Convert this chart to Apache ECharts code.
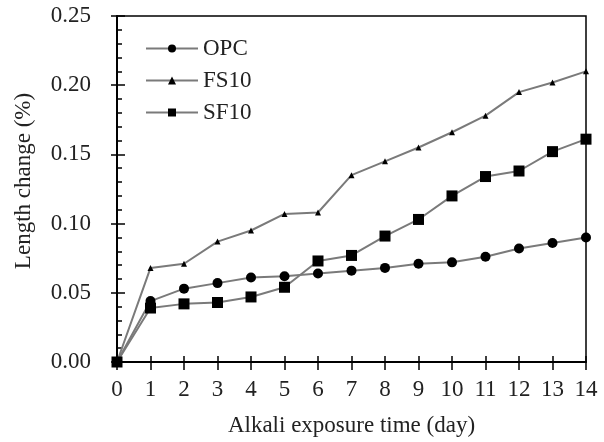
<!DOCTYPE html>
<html>
<head>
<meta charset="utf-8">
<script src="https://cdn.jsdelivr.net/npm/echarts@6/dist/echarts.min.js"></script>
<style>
  html, body { margin: 0; padding: 0; background: #fff; }
  #chart { width: 604px; height: 442px; }
</style>
</head>
<body>
<div id="chart"></div>
<script>
// Exposure days and measured length change (%) per mix
const days = [0, 1, 2, 3, 4, 5, 6, 7, 8, 9, 10, 11, 12, 13, 14];
const opc  = [0, 0.044, 0.053, 0.057, 0.061, 0.062, 0.064, 0.066, 0.068, 0.071, 0.072, 0.076, 0.082, 0.086, 0.090];
const fs10 = [0, 0.068, 0.071, 0.087, 0.095, 0.107, 0.108, 0.135, 0.145, 0.155, 0.166, 0.178, 0.195, 0.202, 0.210];
const sf10 = [0, 0.039, 0.042, 0.043, 0.047, 0.054, 0.073, 0.077, 0.091, 0.103, 0.120, 0.134, 0.138, 0.152, 0.161];
const seriesNames = ['OPC', 'FS10', 'SF10'];
const xTitle = 'Alkali exposure time (day)';
const yTitle = 'Length change (%)';

const FONT = '"Liberation Serif", "DejaVu Serif", serif';
const TEXT = '#222';
const LINE = '#7a7a7a';

const pairs = vals => days.map((d, i) => [d, vals[i]]);

function lineSeries(name, vals, symbol, size) {
  return {
    name: name,
    type: 'line',
    data: pairs(vals),
    symbol: symbol,
    symbolSize: size,
    itemStyle: { color: '#000' },
    lineStyle: { color: LINE, width: 2 },
    emphasis: { disabled: true },
    z: 3
  };
}

const chart = echarts.init(document.getElementById('chart'), null, { renderer: 'canvas' });
chart.setOption({
  animation: false,
  textStyle: { fontFamily: FONT },
  grid: {
    left: 117, right: 18, top: 16, bottom: 78,
    show: true, borderColor: '#000', borderWidth: 1.5, backgroundColor: 'transparent'
  },
  legend: {
    orient: 'vertical',
    left: 140, top: 32,
    itemWidth: 52, itemHeight: 10, itemGap: 9,
    textStyle: { fontFamily: FONT, fontSize: 23, color: TEXT },
    data: seriesNames
  },
  xAxis: [{
    type: 'value', min: 0, max: 14, interval: 1,
    name: xTitle, nameLocation: 'middle', nameGap: 52,
    nameTextStyle: { fontFamily: FONT, fontSize: 23, color: TEXT },
    axisLine: { lineStyle: { color: '#000', width: 2 } },
    axisTick: { show: true, inside: false, length: 8, lineStyle: { color: '#000', width: 1.5 } },
    axisLabel: { fontFamily: FONT, fontSize: 23, color: TEXT, margin: 16 },
    splitLine: { show: false }
  }, {
    type: 'value', min: 0, max: 14, interval: 1, position: 'bottom',
    axisLine: { show: false },
    axisTick: { show: true, inside: true, length: 6, lineStyle: { color: '#000', width: 1.5 } },
    axisLabel: { show: false },
    splitLine: { show: false }
  }],
  yAxis: [{
    type: 'value', min: 0, max: 0.25, interval: 0.05,
    name: yTitle, nameLocation: 'middle', nameGap: 82,
    nameTextStyle: { fontFamily: FONT, fontSize: 23, color: TEXT, padding: [0, 0, 0, 16] },
    axisLine: { show: true, lineStyle: { color: '#000', width: 2 } },
    axisTick: { show: true, inside: false, length: 6, lineStyle: { color: '#000', width: 1.5 } },
    axisLabel: { fontFamily: FONT, fontSize: 23, color: TEXT, margin: 26, formatter: v => v.toFixed(2) },
    splitLine: { show: false }
  }, {
    type: 'value', min: 0, max: 0.25, interval: 0.05, position: 'left',
    axisLine: { show: false },
    axisTick: { show: true, inside: true, length: 8, lineStyle: { color: '#000', width: 1.5 } },
    minorTick: { show: true, splitNumber: 5, length: 5, lineStyle: { color: '#000', width: 1.5 } },
    axisLabel: { show: false },
    splitLine: { show: false }
  }],
  series: [
    lineSeries('OPC', opc, 'circle', 10),
    lineSeries('FS10', fs10, 'triangle', 6),
    lineSeries('SF10', sf10, 'rect', 11)
  ]
});
</script>
</body>
</html>
